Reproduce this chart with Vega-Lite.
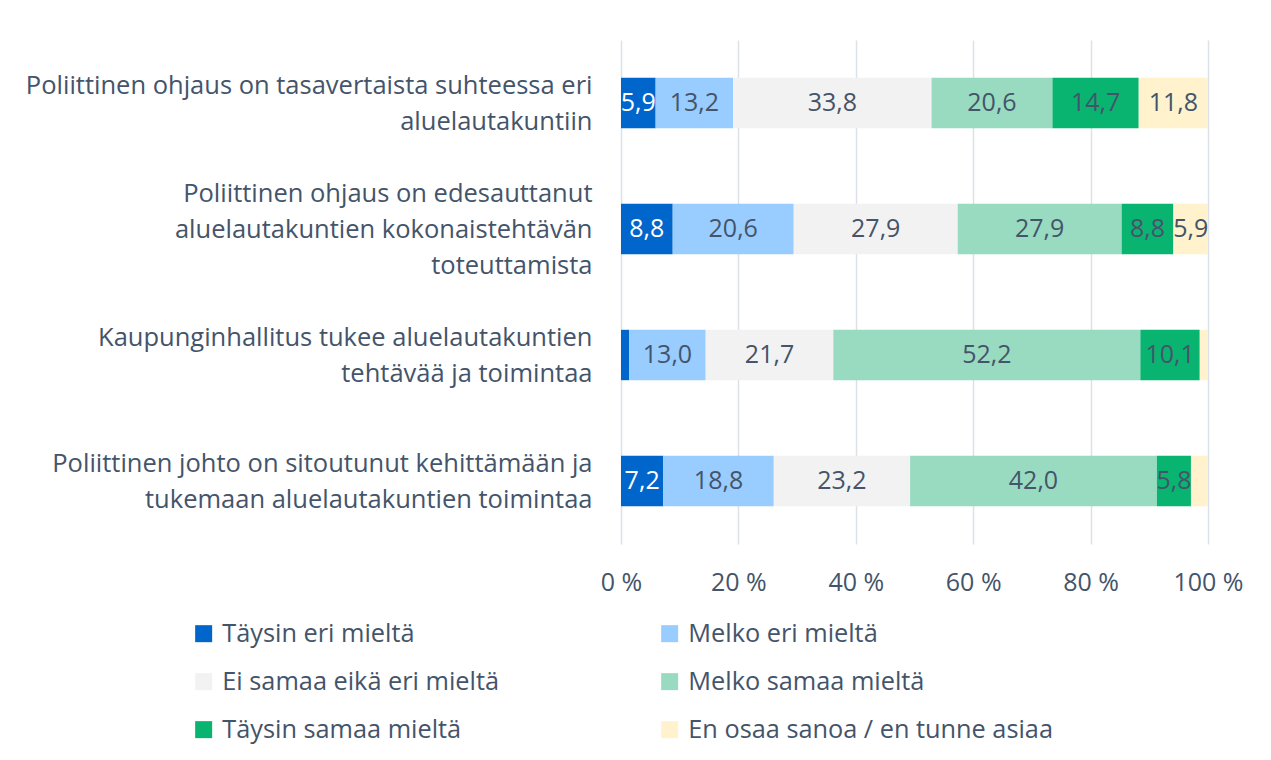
{
  "$schema": "https://vega.github.io/schema/vega-lite/v6.json",
  "width": 587,
  "height": 504,
  "autosize": {"type": "none"},
  "padding": {"left": 621, "top": 40, "right": 63, "bottom": 216},
  "background": "white",
  "config": {
    "locale": {"number": {"decimal": ",", "thousands": " ", "grouping": [3], "currency": ["", " €"]}},
    "view": {"stroke": null},
    "font": "Open Sans"
  },
  "data": {
    "values": [
      {"q": "Poliittinen ohjaus on tasavertaista suhteessa eri|aluelautakuntiin", "cat": "Täysin eri mieltä", "o": 1, "pct": 5.9},
      {"q": "Poliittinen ohjaus on tasavertaista suhteessa eri|aluelautakuntiin", "cat": "Melko eri mieltä", "o": 2, "pct": 13.2},
      {"q": "Poliittinen ohjaus on tasavertaista suhteessa eri|aluelautakuntiin", "cat": "Ei samaa eikä eri mieltä", "o": 3, "pct": 33.8},
      {"q": "Poliittinen ohjaus on tasavertaista suhteessa eri|aluelautakuntiin", "cat": "Melko samaa mieltä", "o": 4, "pct": 20.6},
      {"q": "Poliittinen ohjaus on tasavertaista suhteessa eri|aluelautakuntiin", "cat": "Täysin samaa mieltä", "o": 5, "pct": 14.7},
      {"q": "Poliittinen ohjaus on tasavertaista suhteessa eri|aluelautakuntiin", "cat": "En osaa sanoa / en tunne asiaa", "o": 6, "pct": 11.8},
      {"q": "Poliittinen ohjaus on edesauttanut|aluelautakuntien kokonaistehtävän|toteuttamista", "cat": "Täysin eri mieltä", "o": 1, "pct": 8.8},
      {"q": "Poliittinen ohjaus on edesauttanut|aluelautakuntien kokonaistehtävän|toteuttamista", "cat": "Melko eri mieltä", "o": 2, "pct": 20.6},
      {"q": "Poliittinen ohjaus on edesauttanut|aluelautakuntien kokonaistehtävän|toteuttamista", "cat": "Ei samaa eikä eri mieltä", "o": 3, "pct": 27.9},
      {"q": "Poliittinen ohjaus on edesauttanut|aluelautakuntien kokonaistehtävän|toteuttamista", "cat": "Melko samaa mieltä", "o": 4, "pct": 27.9},
      {"q": "Poliittinen ohjaus on edesauttanut|aluelautakuntien kokonaistehtävän|toteuttamista", "cat": "Täysin samaa mieltä", "o": 5, "pct": 8.8},
      {"q": "Poliittinen ohjaus on edesauttanut|aluelautakuntien kokonaistehtävän|toteuttamista", "cat": "En osaa sanoa / en tunne asiaa", "o": 6, "pct": 5.9},
      {"q": "Kaupunginhallitus tukee aluelautakuntien|tehtävää ja toimintaa", "cat": "Täysin eri mieltä", "o": 1, "pct": 1.4},
      {"q": "Kaupunginhallitus tukee aluelautakuntien|tehtävää ja toimintaa", "cat": "Melko eri mieltä", "o": 2, "pct": 13.0},
      {"q": "Kaupunginhallitus tukee aluelautakuntien|tehtävää ja toimintaa", "cat": "Ei samaa eikä eri mieltä", "o": 3, "pct": 21.7},
      {"q": "Kaupunginhallitus tukee aluelautakuntien|tehtävää ja toimintaa", "cat": "Melko samaa mieltä", "o": 4, "pct": 52.2},
      {"q": "Kaupunginhallitus tukee aluelautakuntien|tehtävää ja toimintaa", "cat": "Täysin samaa mieltä", "o": 5, "pct": 10.1},
      {"q": "Kaupunginhallitus tukee aluelautakuntien|tehtävää ja toimintaa", "cat": "En osaa sanoa / en tunne asiaa", "o": 6, "pct": 1.4},
      {"q": "Poliittinen johto on sitoutunut kehittämään ja|tukemaan aluelautakuntien toimintaa", "cat": "Täysin eri mieltä", "o": 1, "pct": 7.2},
      {"q": "Poliittinen johto on sitoutunut kehittämään ja|tukemaan aluelautakuntien toimintaa", "cat": "Melko eri mieltä", "o": 2, "pct": 18.8},
      {"q": "Poliittinen johto on sitoutunut kehittämään ja|tukemaan aluelautakuntien toimintaa", "cat": "Ei samaa eikä eri mieltä", "o": 3, "pct": 23.2},
      {"q": "Poliittinen johto on sitoutunut kehittämään ja|tukemaan aluelautakuntien toimintaa", "cat": "Melko samaa mieltä", "o": 4, "pct": 42.0},
      {"q": "Poliittinen johto on sitoutunut kehittämään ja|tukemaan aluelautakuntien toimintaa", "cat": "Täysin samaa mieltä", "o": 5, "pct": 5.8},
      {"q": "Poliittinen johto on sitoutunut kehittämään ja|tukemaan aluelautakuntien toimintaa", "cat": "En osaa sanoa / en tunne asiaa", "o": 6, "pct": 2.9}
    ]
  },
  "transform": [
    {"stack": "pct", "groupby": ["q"], "sort": [{"field": "o", "order": "ascending"}], "offset": "normalize", "as": ["p0", "p1"]}
  ],
  "encoding": {
    "y": {
      "field": "q",
      "type": "nominal",
      "sort": ["Poliittinen ohjaus on tasavertaista suhteessa eri|aluelautakuntiin", "Poliittinen ohjaus on edesauttanut|aluelautakuntien kokonaistehtävän|toteuttamista", "Kaupunginhallitus tukee aluelautakuntien|tehtävää ja toimintaa", "Poliittinen johto on sitoutunut kehittämään ja|tukemaan aluelautakuntien toimintaa"],
      "scale": {"paddingInner": 0.6, "paddingOuter": 0.3},
      "axis": {
        "title": null,
        "ticks": false,
        "domain": false,
        "labelExpr": "split(datum.label, '|')",
        "labelFontSize": 25.5,
        "labelLineHeight": 36,
        "labelColor": "#44546A",
        "labelPadding": 29,
        "labelLimit": 700,
        "labelFont": "Open Sans",
        "labelOffset": {"condition": {"test": "indexof(datum.value, 'edesauttanut') >= 0", "value": -35}, "value": -17}
      }
    }
  },
  "layer": [
    {
      "mark": {"type": "bar"},
      "encoding": {
        "x": {
          "field": "p0",
          "type": "quantitative",
          "scale": {"domain": [0, 1], "nice": false},
          "axis": {
            "title": null,
            "values": [0, 0.2, 0.4, 0.6, 0.8, 1],
            "labelExpr": "round(datum.value*100) + ' %'",
            "labelFontSize": 25,
            "labelColor": "#44546A",
            "labelPadding": 26,
            "labelFont": "Open Sans",
            "labelFlush": false,
            "ticks": false,
            "domain": false,
            "grid": true,
            "gridColor": "#DCE1E8",
            "gridWidth": 1.5
          }
        },
        "x2": {"field": "p1"},
        "color": {
          "field": "cat",
          "type": "nominal",
          "sort": null,
          "scale": {
            "domain": ["Täysin eri mieltä", "Melko eri mieltä", "Ei samaa eikä eri mieltä", "Melko samaa mieltä", "Täysin samaa mieltä", "En osaa sanoa / en tunne asiaa"],
            "range": ["#0066CC", "#99CCFF", "#F2F2F2", "#99DBC1", "#09B471", "#FFF2CC"]
          },
          "legend": {
            "title": null,
            "orient": "none",
            "legendX": -430,
            "legendY": 581,
            "direction": "horizontal",
            "columns": 2,
            "columnPadding": 157,
            "rowPadding": 22,
            "symbolType": "square",
            "symbolSize": 289,
            "symbolStrokeWidth": 0,
            "labelFontSize": 25.3,
            "labelColor": "#44546A",
            "labelFont": "Open Sans",
            "labelOffset": 6,
            "labelLimit": 500
          }
        }
      }
    },
    {
      "transform": [
        {"filter": "datum.pct >= 4"},
        {"fold": ["p0", "p1"], "as": ["edge", "pos"]}
      ],
      "mark": {"type": "text", "fontSize": 25, "font": "Open Sans", "align": "center", "baseline": "middle"},
      "encoding": {
        "x": {
          "aggregate": "mean",
          "field": "pos",
          "type": "quantitative",
          "scale": {"domain": [0, 1], "nice": false},
          "axis": {
            "title": null,
            "values": [0, 0.2, 0.4, 0.6, 0.8, 1],
            "labelExpr": "round(datum.value*100) + ' %'",
            "labelFontSize": 25,
            "labelColor": "#44546A",
            "labelPadding": 26,
            "labelFont": "Open Sans",
            "labelFlush": false,
            "ticks": false,
            "domain": false,
            "grid": true,
            "gridColor": "#DCE1E8",
            "gridWidth": 1.5
          }
        },
        "detail": {"field": "cat", "type": "nominal"},
        "text": {"aggregate": "max", "field": "pct", "type": "quantitative", "format": ".1f"},
        "color": {
          "condition": {"test": "datum.cat === 'Täysin eri mieltä'", "value": "white"},
          "value": "#44546A"
        }
      }
    }
  ]
}
